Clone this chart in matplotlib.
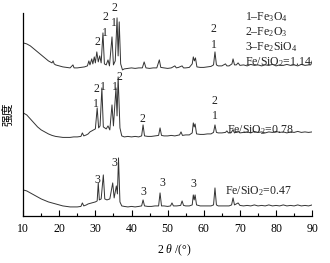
import matplotlib
matplotlib.use("Agg")
import matplotlib.pyplot as plt
from matplotlib.ticker import MultipleLocator

plt.rcParams['font.family'] = ['Liberation Serif', 'DejaVu Serif']
plt.rcParams['mathtext.fontset'] = 'custom'
plt.rcParams['mathtext.rm'] = 'Liberation Serif'
plt.rcParams['mathtext.it'] = 'Liberation Serif:italic'

# 2theta / intensity (arbitrary units, traces already offset)
tt_114 = [10, 11, 12, 13, 14, 15, 16, 17, 18, 18.3, 18.6, 19, 20, 21, 22, 23, 23.8, 24.1,
          25, 26, 27, 27.8, 28.2, 28.5, 29.0, 29.3, 29.7, 30.0, 30.4, 30.8, 31.2, 31.6,
          32.1, 32.5, 33.0, 33.5, 33.9, 34.6, 35.0, 35.5, 36.0, 36.3, 36.6, 37.0, 37.5,
          38, 39, 40, 41, 42, 43, 43.5, 44, 45, 46, 47, 47.7, 48.1, 49, 50, 51, 52.0, 52.4,
          53, 54.0, 54.4, 55, 56, 56.8, 57.1, 57.4, 57.7, 58.1, 59, 60, 61, 62, 62.7, 63.1,
          63.5, 64, 65, 66.0, 66.4, 67, 67.8, 68.1, 68.5, 69, 69.5, 70, 71, 72, 73, 74, 75,
          76, 77, 78, 79, 80, 81, 82, 83, 84, 85, 86, 87, 88, 89, 89.6, 90]
I_114 = [173, 172, 170, 167, 164, 161, 158, 155, 153, 155, 152, 151, 150, 149, 148.5, 148, 151, 148,
         148, 148.5, 149, 150, 155, 151, 157, 152, 159, 153, 164, 154, 160, 153,
         183, 152, 151, 156, 150, 179, 151, 155, 198, 160, 194, 152, 146,
         147, 147.5, 148, 147.5, 148, 148, 154, 148, 147.5, 148, 148, 156, 148.5, 148, 147.5, 148, 150, 148,
         148.5, 150, 148, 148, 148.5, 152, 159, 155, 158, 149, 148.5, 148.5, 149, 149.5, 151, 164,
         151, 150, 150, 152, 150, 150, 152, 157, 151, 151, 153, 150.5, 151, 150, 151.5, 150.5, 151,
         150, 151, 150.5, 151.5, 150, 151, 150.5, 151.5, 150.5, 151, 150, 151.5, 150.5, 151, 151, 155]

tt_078 = [10, 11, 12, 13, 14, 15, 16, 17, 18, 19, 20, 21, 22, 23, 24, 25, 26, 26.4, 26.8,
          27.5, 28, 28.5, 29, 29.5, 30.0, 30.5, 30.9, 31.3, 31.8, 32.2, 33.0, 33.5, 34.0,
          34.6, 35.0, 35.7, 36.0, 36.3, 36.8, 37.3, 38, 39, 40, 41, 42, 42.8, 43.2, 43.6,
          44.5, 45.5, 46.5, 47.5, 47.9, 48.3, 49, 50, 51, 52, 53.3, 53.7, 54.1, 55, 56,
          56.8, 57.1, 57.35, 57.6, 58.0, 59, 60, 61, 62, 62.7, 63.1, 63.5, 64, 65, 66, 66.4,
          66.8, 67.5, 68.1, 68.5, 69, 69.5, 70, 71, 72, 73, 74, 75, 76, 77, 78, 79, 80, 81,
          82, 83, 84, 85, 86, 87, 88, 89, 90]
I_078 = [103, 101, 97, 93, 89, 86, 84, 82, 80.5, 79.5, 79, 78.5, 78.5, 78.5, 79, 79, 79.5, 83, 80,
         81, 82, 84, 85, 86, 87, 108, 88, 90, 128, 89, 87, 90, 86,
         111, 90, 128, 100, 139, 88, 80, 79, 79.5, 79, 79.5, 79, 80, 91, 80,
         79.5, 79.5, 80, 80.5, 88, 80.5, 80, 80, 80.5, 80, 81, 84, 80.5, 81, 81,
         83, 93, 89, 92, 82, 81.5, 81.5, 82, 82, 83.5, 91, 83.5, 83, 83, 83.5, 85,
         83, 83, 86, 83, 84, 85, 83, 83.5, 84, 83, 84.5, 83.5, 84, 83, 84, 83.5, 84.5, 83.5,
         84, 83, 84, 83.5, 84.5, 83.5, 84, 83.5, 84]

tt_047 = [10, 11, 12, 13, 14, 15, 16, 17, 18, 19, 20, 21, 22, 23, 24, 25, 26, 26.4, 26.8,
          27.5, 28, 28.5, 29, 29.5, 30.0, 30.5, 30.8, 31.1, 31.6, 32.2, 32.6, 33.2, 34.0,
          34.8, 35.2, 35.8, 36.1, 36.4, 36.8, 37.3, 38, 39, 40, 41, 42, 42.8, 43.2, 43.6,
          44.5, 45.5, 46.5, 47.5, 47.9, 48.3, 49, 50, 50.8, 51.2, 51.6, 52.5, 53.6, 54.0,
          54.4, 55, 56, 56.8, 57.1, 57.35, 57.6, 58.0, 59, 60, 61, 62, 62.7, 63.1, 63.5, 64,
          65, 66, 67, 67.7, 68.1, 68.5, 69, 69.5, 70, 71, 72, 73, 74, 75, 76, 77, 78, 79,
          80, 81, 82, 83, 84, 85, 86, 87, 88, 89, 90]
I_047 = [26, 25, 23, 21, 19, 17, 15.5, 14, 13, 12, 11, 10, 9.5, 9, 9, 9, 9.5, 13, 10,
         11, 12, 12.5, 13, 13.5, 14, 15, 33, 16, 17, 41, 17, 16, 17,
         33, 18, 30, 22, 58, 14, 10, 9.5, 9, 9.5, 9, 9.5, 10, 16, 10,
         9.5, 9.5, 10, 10, 23, 10, 10, 9.5, 10, 13, 10, 10, 10.5, 15,
         10.5, 10, 10, 11, 21, 16, 21, 11, 10, 10, 10, 10, 11, 28, 11, 10,
         10, 10, 10, 11, 18, 11, 12, 13, 10.5, 10, 10.5, 10, 11, 10, 10.5, 10, 11, 10,
         10.5, 10, 11, 10, 10.5, 10, 11, 10, 10.5, 10, 11]

# phase markers: (text, 2theta, height)
marks = [("2", 30.5, 174), ("2", 32.7, 199), ("1", 32.5, 183), ("2", 35.2, 208), ("1", 35.2, 193),
         ("2", 62.6, 187), ("1", 62.9, 171),
         ("2", 30.2, 127), ("1", 30.2, 112), ("1", 32.1, 129), ("1", 35.4, 129), ("2", 36.6, 139),
         ("2", 42.9, 97), ("2", 62.9, 115), ("1", 63.1, 100),
         ("3", 30.5, 36), ("3", 35.2, 53), ("3", 43.2, 24), ("3", 48.5, 33), ("3", 57.1, 32)]

legend_lines = ["1\u2013Fe$_3$O$_4$", "2\u2013Fe$_2$O$_3$", "3\u2013Fe$_2$SiO$_4$", "Fe/SiO$_2$=1.14"]

fig = plt.figure(figsize=(3.3, 2.63), dpi=100)
ax = fig.add_axes([0.07, 0.179, 0.876, 0.772])

lc = '#333333'
for tt, inten in [(tt_114, I_114), (tt_078, I_078), (tt_047, I_047)]:
    ax.plot(tt, inten, color=lc, lw=0.7)

for s, x, y in marks:
    ax.text(x, y, s, fontsize=8.5, ha='center', va='center', color='#222222')

for i, s in enumerate(legend_lines):
    ax.text(71.3, 199 - 15 * i, s, fontsize=8.5, ha='left', va='center', color='#222222')
ax.text(66.3, 86, "Fe/SiO$_2$=0.78", fontsize=8.5, ha='left', va='center', color='#222222')
ax.text(66.0, 25, "Fe/SiO$_2$=0.47", fontsize=8.5, ha='left', va='center', color='#222222')

ax.set_xlim(10, 90)
ax.set_ylim(0, 203)
ax.xaxis.set_major_locator(MultipleLocator(10))
ax.xaxis.set_minor_locator(MultipleLocator(5))
ax.tick_params(axis='x', which='major', direction='in', length=4, width=0.8, labelsize=8.5, pad=5)
ax.tick_params(axis='x', which='minor', direction='in', length=2.5, width=0.8)
ax.set_yticks([])
for side in ['top', 'right']:
    ax.spines[side].set_visible(False)
for side in ['left', 'bottom']:
    ax.spines[side].set_linewidth(0.9)

fig.text(174 / 330, 1 - 250 / 263, "2 $\\theta$ /(\u00b0)", fontsize=8.5, ha='center', va='center')
fig.text(8 / 330, 1 - 114 / 263, "强度", fontsize=8.5, rotation=90, ha='center', va='center',
         family=['Noto Sans CJK SC', 'DejaVu Sans'])

fig.savefig("out.png", dpi=100)
